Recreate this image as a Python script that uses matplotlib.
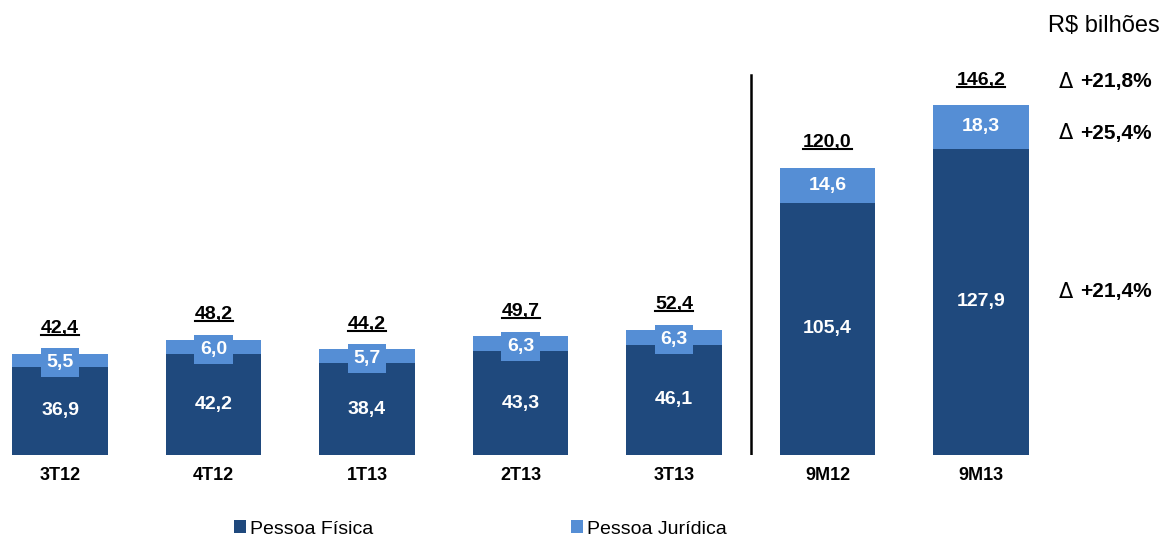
import matplotlib.pyplot as plt
from matplotlib.lines import Line2D

plt.rcParams['font.family'] = ['Liberation Sans', 'DejaVu Sans']

categories = ["3T12", "4T12", "1T13", "2T13", "3T13", "9M12", "9M13"]
pessoa_fisica = [36.9, 42.2, 38.4, 43.3, 46.1, 105.4, 127.9]
pessoa_juridica = [5.5, 6.0, 5.7, 6.3, 6.3, 14.6, 18.3]
totals = [42.4, 48.2, 44.2, 49.7, 52.4, 120.0, 146.2]
deltas = ["+21,8%", "+25,4%", "+21,4%"]

dark = '#1F497D'
light = '#558ED5'

def br(v):
    return "{:.1f}".format(v).replace('.', ',')

fig = plt.figure(figsize=(11.66, 5.39), dpi=100)
ax = fig.add_axes([0, 84 / 539, 1, 455 / 539])
ax.set_xlim(-0.391, 7.205)
ax.set_ylim(0, 190.1)
ax.axis('off')

x = list(range(len(categories)))
w = 0.625
b1 = ax.bar(x, pessoa_fisica, w, color=dark, label='Pessoa Física')
b2 = ax.bar(x, pessoa_juridica, w, bottom=pessoa_fisica, color=light, label='Pessoa Jurídica')

total_texts = []
for i in x:
    pf, pj, t = pessoa_fisica[i], pessoa_juridica[i], totals[i]
    ax.text(i, pf / 2, br(pf), ha='center', va='center', color='white',
            fontsize=14, fontweight='bold')
    if i < 5:
        ax.text(i, pf + pj / 2 - 1, br(pj), ha='center', va='center', color='white',
                fontsize=14, fontweight='bold',
                bbox=dict(boxstyle='square,pad=0.3', fc=light, ec='none'))
    else:
        ax.text(i, pf + pj / 2, br(pj), ha='center', va='center', color='white',
                fontsize=14, fontweight='bold')
    tt = ax.annotate(br(t), (i, t), xytext=(0, 18), textcoords='offset points',
                     ha='center', va='center', fontsize=14, fontweight='bold')
    total_texts.append(tt)
    ax.text(i, -8.5, categories[i], ha='center', va='center', fontsize=13,
            fontweight='bold')

# separator between quarters and 9M
ax.plot([4.5, 4.5], [0, 158.7], color='black', lw=1.8)

# delta labels on the right
dy_px = [82, 133, 292]
for d, ypx in zip(deltas, dy_px):
    fig.text(1059 / 1166, 1 - ypx / 539, "Δ", ha='left', va='center', fontsize=15,
             family='DejaVu Sans')
    fig.text(1080 / 1166, 1 - ypx / 539, d, ha='left', va='center', fontsize=15,
             fontweight='bold')

fig.text(1160 / 1166, 1 - 26 / 539, "R$ bilhões", ha='right', va='center', fontsize=17)

fig.legend(handles=[b1, b2], loc='center', bbox_to_anchor=(0.412, 1 - 529 / 539),
           ncol=2, frameon=False, fontsize=14, handlelength=0.6, handleheight=0.6,
           handletextpad=0.2, columnspacing=10.2)

# underline totals
fig.canvas.draw()
r = fig.canvas.get_renderer()
inv = fig.transFigure.inverted()
for tt in total_texts:
    bb = tt.get_window_extent(r)
    (x0, y0), (x1, y1) = inv.transform([(bb.x0, bb.y0 + 2), (bb.x1, bb.y0 + 2)])
    fig.add_artist(Line2D([x0, x1], [y0, y1], transform=fig.transFigure,
                          color='black', lw=1.5))

plt.savefig("out.png", dpi=100)
